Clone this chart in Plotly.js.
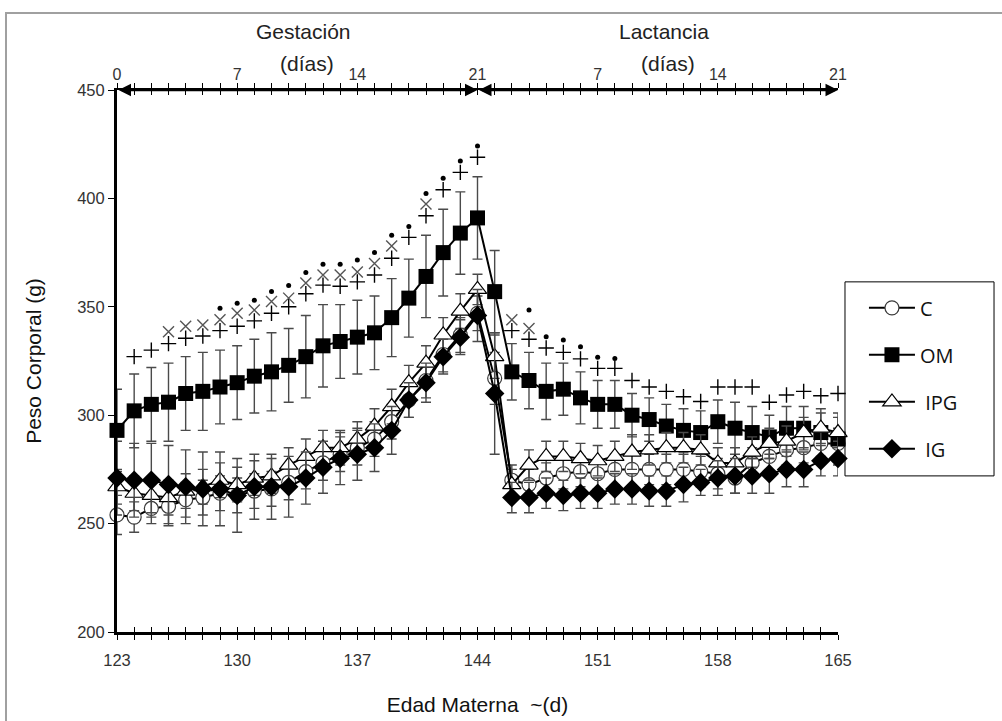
<!DOCTYPE html>
<html><head><meta charset="utf-8">
<script src="https://cdn.plot.ly/plotly-3.0.1.min.js"></script>
<style>
body{margin:0;background:#fff;overflow:hidden;}
#frame{position:absolute;left:5px;top:12px;width:1100px;height:800px;border-left:2px solid #a0a0a0;border-top:2px solid #a0a0a0;}
#chart{position:absolute;left:0;top:0;width:1002px;height:721px;}
</style></head><body>
<div id="frame"></div>
<div id="chart"></div>
<script>
// Maternal age (days)
const days = [123,124,125,126,127,128,129,130,131,132,133,134,135,136,137,138,139,140,141,142,143,144,
              145,146,147,148,149,150,151,152,153,154,155,156,157,158,159,160,161,162,163,164,165];
// Period axis labels (top)
const periodTickVals = [123,130,137,144,151,158,165];
const periodTickText = ['0','7','14','21','7','14','21'];
const bottomTickVals = [123,130,137,144,151,158,165];
const bottomTickText = ['123','130','137','144','151','158','165'];
const periods = ['Gestación','Lactancia'];
const periodStart = [123,144];
const periodEnd = [144,165];

// Series values (g)
const C   = [254,253,257,258,261,262,264,263,265,266,269,274,278,282,285,289,297,307,316,328,337,347,
             317,270,268,271,273,274,273,275,275,275,275,275,274,273,271,278,281,284,285,287,287];
const OM  = [293,302,305,306,310,311,313,315,318,320,323,327,332,334,336,338,345,354,364,375,384,391,
             357,320,316,311,312,308,305,305,300,298,295,293,292,297,294,292,290,294,294,292,289];
const IPG = [267,264,263,262,265,267,270,268,271,272,277,281,285,285,289,295,304,315,324,337,348,358,
             327,268,277,281,281,280,279,281,283,284,285,285,284,278,278,283,287,288,292,294,292];
const IG  = [271,270,270,268,267,266,266,263,267,267,267,271,276,280,282,285,293,307,315,327,336,346,
             310,262,262,264,263,264,264,266,266,265,265,268,269,271,272,272,273,275,275,279,280];

// Error (g)
const C_err   = [9,7,7,9,8,8,8,8,8,8,8,8,8,8,8,8,8,8,8,8,8,8,
                 12,7,7,7,7,7,7,7,7,7,7,7,7,7,7,7,7,7,7,7,7];
const OM_err  = [19,17,17,18,17,18,17,17,17,18,17,19,19,17,17,17,18,18,19,20,19,19,
                 19,13,13,13,12,12,11,11,10,10,10,10,10,10,12,12,10,10,10,11,12];
const IPG_err = [8,8,8,8,8,8,8,8,8,8,8,8,8,8,8,8,8,8,8,8,8,7,
                 10,7,7,7,7,7,7,7,8,7,7,7,7,7,7,7,7,7,7,7,7];
const IG_err  = [17,17,17,18,17,17,17,17,15,15,14,12,12,12,12,11,11,8,9,8,8,12,
                 28,7,7,7,7,7,7,7,7,7,7,8,6,8,8,8,9,8,8,7,8];

// Significance marks (g); null = no mark
const plusMark = [null,327,330,333,335.5,336.5,339,341,343.5,347,350,356,360,359.5,361.5,364.7,372.4,382,392,404,412,419,
                  null,339,335,331,329,326,321.6,321.6,316,313,311,308.5,306.3,313,313,313,306,309.3,311,309,310];
const crossMark = [null,null,null,338.5,341,341.6,344,347,348.5,352.4,354,361,364.7,364.7,366,370,378,null,397.4,null,null,null,
                   null,344,340,null,null,null,null,null,null,null,null,null,null,null,null,null,null,null,null,null,null];
const dotMark = [null,null,null,null,null,null,349.3,351.6,353,357,359.8,365.8,369.6,369.6,371.6,375,383,387,402.3,409.3,417.3,424.2,
                 null,null,348.5,336.2,334.7,331.6,326.7,326.2,null,null,null,null,null,null,null,null,null,null,null,null,null];

const seriesNames = ['C','OM','\u00a0IPG','\u00a0IG'];

const errStyle = (arr) => ({type:'data', array:arr, visible:true, color:'#4a4a4a', thickness:1.4, width:5});
const lineStyle = {color:'#000', width:2};

const traces = [
  {x:days, y:C, name:seriesNames[0], mode:'lines+markers', line:lineStyle, cliponaxis:false,
   marker:{symbol:'circle', size:14, color:'#fff', line:{color:'#3a3a3a', width:1.2}},
   error_y:errStyle(C_err), legendgroup:'a'},
  {x:days, y:OM, name:seriesNames[1], mode:'lines+markers', line:lineStyle, cliponaxis:false,
   marker:{symbol:'square', size:15, color:'#000', line:{color:'#000', width:0}},
   error_y:errStyle(OM_err), legendgroup:'b'},
  {x:days, y:IPG, name:seriesNames[2], mode:'lines+markers', line:lineStyle, cliponaxis:false,
   marker:{symbol:'triangle-up', size:16, color:'#fff', line:{color:'#000', width:1.2}},
   error_y:errStyle(IPG_err), legendgroup:'c'},
  {x:days, y:IG, name:seriesNames[3], mode:'lines+markers', line:lineStyle, cliponaxis:false,
   marker:{symbol:'diamond', size:15, color:'#000', line:{color:'#000', width:0}},
   error_y:errStyle(IG_err), legendgroup:'d'},
  {x:days, y:plusMark, mode:'markers', showlegend:false, hoverinfo:'skip', cliponaxis:false,
   marker:{symbol:'cross-thin', size:11, line:{color:'#000', width:1.4}}},
  {x:days, y:crossMark, mode:'markers', showlegend:false, hoverinfo:'skip', cliponaxis:false,
   marker:{symbol:'x-thin', size:11, line:{color:'#555', width:1.4}}},
  {x:days, y:dotMark, mode:'markers', showlegend:false, hoverinfo:'skip', cliponaxis:false,
   marker:{symbol:'circle', size:5, color:'#000'}}
];

const bottomText = days.map(d => { const i = bottomTickVals.indexOf(d); return i >= 0 ? bottomTickText[i] : ''; });
const topText = days.map(d => { const i = periodTickVals.indexOf(d); return i >= 0 ? periodTickText[i] : ''; });
const tickFont = {family:'Liberation Sans, Arial, sans-serif', size:16.5, color:'#333'};

const annotations = [];
for (let p = 0; p < periods.length; p++) {
  const mid = (periodStart[p] + periodEnd[p]) / 2;
  annotations.push({x:mid, xref:'x', y:1.108, yref:'paper', yanchor:'middle', text:periods[p], showarrow:false, xshift:6,
    font:{family:'Liberation Sans, Arial, sans-serif', size:21, color:'#222'}});
  annotations.push({x:mid, xref:'x', y:1.049, yref:'paper', yanchor:'middle', text:'(días)', showarrow:false, xshift:10,
    font:{family:'Liberation Sans, Arial, sans-serif', size:21, color:'#222'}});
  annotations.push({x:periodEnd[p], y:450, xref:'x', yref:'y', ax:periodStart[p], ay:450, axref:'x', ayref:'y',
    text:'', showarrow:true, arrowside:'end+start', arrowhead:2, startarrowhead:2, arrowsize:1, startarrowsize:1,
    arrowwidth:2.5, arrowcolor:'#000', standoff:0, startstandoff:0});
}

const layout = {
  width:1002, height:721,
  margin:{l:117, r:164, t:90, b:89},
  paper_bgcolor:'rgba(0,0,0,0)', plot_bgcolor:'rgba(0,0,0,0)',
  showlegend:true,
  legend:{x:1.036, xanchor:'left', y:0.634, yanchor:'top', bgcolor:'rgba(0,0,0,0)', borderwidth:0,
          tracegroupgap:18, itemwidth:46,
          font:{family:'Open Sans, Noto Sans, sans-serif', size:20, color:'#111'}},
  xaxis:{range:[123,165], tickmode:'array', tickvals:days, ticktext:bottomText, ticks:'outside', ticklen:5,
         tickwidth:1, tickcolor:'#000', showline:true, linewidth:3, linecolor:'#000', showgrid:false, zeroline:false,
         tickfont:tickFont, ticklabelstandoff:6,
         title:{text:'Edad Materna  ~(d)', standoff:30, font:{family:'Liberation Sans, Arial, sans-serif', size:21, color:'#111'}}},
  xaxis3:{range:[123,165], overlaying:'x', anchor:'y', side:'bottom', tickmode:'array', tickvals:days, ticks:'inside',
          ticklen:5, tickwidth:1, tickcolor:'#000', showticklabels:false, showline:false, showgrid:false, zeroline:false},
  xaxis2:{range:[123,165], overlaying:'x', anchor:'y', side:'top', tickmode:'array', tickvals:days, ticktext:topText,
          ticks:'outside', ticklen:5, tickwidth:1, tickcolor:'#000', showline:true, linewidth:2.5, linecolor:'#000',
          showgrid:false, zeroline:false, ticklabelstandoff:-4,
          tickfont:{family:'Liberation Sans, Arial, sans-serif', size:16, color:'#333'}},
  xaxis4:{range:[123,165], overlaying:'x', anchor:'y', side:'top', tickmode:'array', tickvals:days, ticks:'inside',
          ticklen:5, tickwidth:1, tickcolor:'#000', showticklabels:false, showline:false, showgrid:false, zeroline:false},
  yaxis:{range:[200,450], tickmode:'linear', tick0:200, dtick:50, ticks:'outside', ticklen:6, tickwidth:1, tickcolor:'#000',
         showline:true, linewidth:3, linecolor:'#000', showgrid:false, zeroline:false, tickfont:tickFont,
         title:{text:'Peso Corporal (g)', standoff:30, font:{family:'Liberation Sans, Arial, sans-serif', size:21, color:'#111'}}},
  annotations:annotations,
  shapes:[{type:'rect', xref:'paper', yref:'paper', x0:1.0097, x1:1.2164, y0:0.288, y1:0.646,
           line:{color:'#000', width:1}, fillcolor:'rgba(0,0,0,0)'}]
};

// dummy traces to activate overlay axes
traces.push({x:[days[0]], y:[null], xaxis:'x2', showlegend:false, hoverinfo:'skip', mode:'markers'});
traces.push({x:[days[0]], y:[null], xaxis:'x3', showlegend:false, hoverinfo:'skip', mode:'markers'});
traces.push({x:[days[0]], y:[null], xaxis:'x4', showlegend:false, hoverinfo:'skip', mode:'markers'});

Plotly.newPlot('chart', traces, layout, {displayModeBar:false, staticPlot:true});
</script>
</body></html>
